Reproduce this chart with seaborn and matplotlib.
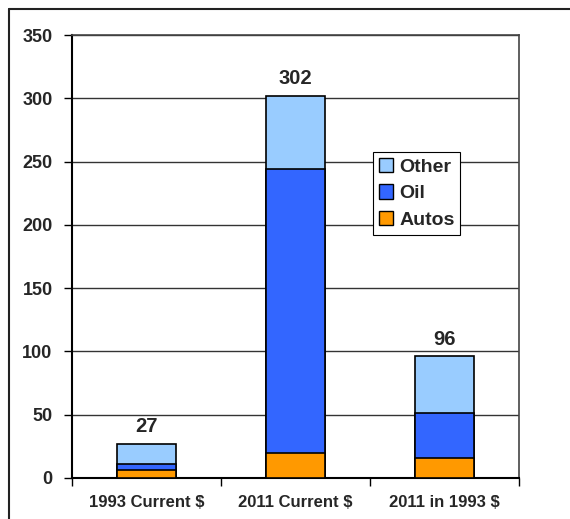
import numpy as np
import pandas as pd
import matplotlib
matplotlib.use("Agg")
import matplotlib.pyplot as plt
from matplotlib.lines import Line2D
from matplotlib.patches import Patch
import seaborn as sns

categories = ["1993 Current $", "2011 Current $", "2011 in 1993 $"]
autos = [6, 20, 16]
oil = [5, 224, 35]
other = [16, 58, 45]
totals = [27, 302, 96]

series_names = ["Other", "Oil", "Autos"]
colors = {"Other": "#99CCFF", "Oil": "#3366FF", "Autos": "#FF9900"}


def main():
    sns.set_style("white")
    plt.rcParams["font.family"] = ["Liberation Sans", "DejaVu Sans"]
    plt.rcParams["font.weight"] = "bold"

    df = pd.DataFrame({"cat": categories, "Autos": autos, "Oil": oil, "Other": other})
    df["Oil_top"] = df["Autos"] + df["Oil"]
    df["Other_top"] = df["Oil_top"] + df["Other"]

    fig = plt.figure(figsize=(5.7, 5.19), dpi=100)
    ax = fig.add_axes([72 / 570, 41 / 519, 447 / 570, 443 / 519])

    # stacked bars drawn from tallest cumulative to shortest
    for col, name in [("Other_top", "Other"), ("Oil_top", "Oil"), ("Autos", "Autos")]:
        sns.barplot(data=df, x="cat", y=col, color=colors[name], saturation=1,
                    width=0.4, edgecolor="black", linewidth=1.2, ax=ax, zorder=3)

    for i, t in enumerate(totals):
        ax.text(i, t + 6, str(t), ha="center", va="bottom", fontsize=14.5, fontweight="bold")

    ax.set_ylim(0, 350)
    ax.set_xlim(-0.5, 2.5)
    ax.set_yticks(np.arange(0, 351, 50))
    ax.set_xlabel("")
    ax.set_ylabel("")
    ax.yaxis.grid(True, color="#333333", linewidth=1.0, zorder=0)
    ax.set_axisbelow(True)

    ax.tick_params(axis="y", which="major", direction="out", length=6, width=1,
                   color="black", labelsize=13, pad=8, left=True)
    ax.tick_params(axis="x", which="major", length=0, labelsize=12, pad=12)
    ax.set_xticks([-0.5, 0.5, 1.5, 2.5], minor=True)
    ax.tick_params(axis="x", which="minor", direction="out", length=6, width=1,
                   color="black", bottom=True)
    for lbl in ax.get_xticklabels() + ax.get_yticklabels():
        lbl.set_fontweight("bold")

    for side in ["left", "bottom"]:
        ax.spines[side].set_color("black")
        ax.spines[side].set_linewidth(1.5)
    for side in ["top", "right"]:
        ax.spines[side].set_color("#444444")
        ax.spines[side].set_linewidth(1.2)

    handles = [Patch(facecolor=colors[n], edgecolor="black", linewidth=1) for n in series_names]
    leg = ax.legend(handles, series_names, loc="upper left",
                    bbox_to_anchor=((373 - 72) / 447, (478 - 152) / 443),
                    frameon=True, fancybox=False, edgecolor="black", framealpha=1,
                    prop={"weight": "bold", "size": 14}, handlelength=0.75,
                    handleheight=0.75, handletextpad=0.3, labelspacing=0.45,
                    borderpad=0.3, borderaxespad=0)
    leg.get_frame().set_linewidth(0.8)

    # outer chart border
    fig.add_artist(Line2D([9 / 570, 1], [1 - 9 / 519, 1 - 9 / 519], color="#222222", linewidth=1.5))
    fig.add_artist(Line2D([9 / 570, 9 / 570], [0, 1 - 9 / 519], color="#222222", linewidth=1.5))

    fig.savefig("out.png", dpi=100)


if __name__ == "__main__":
    main()
